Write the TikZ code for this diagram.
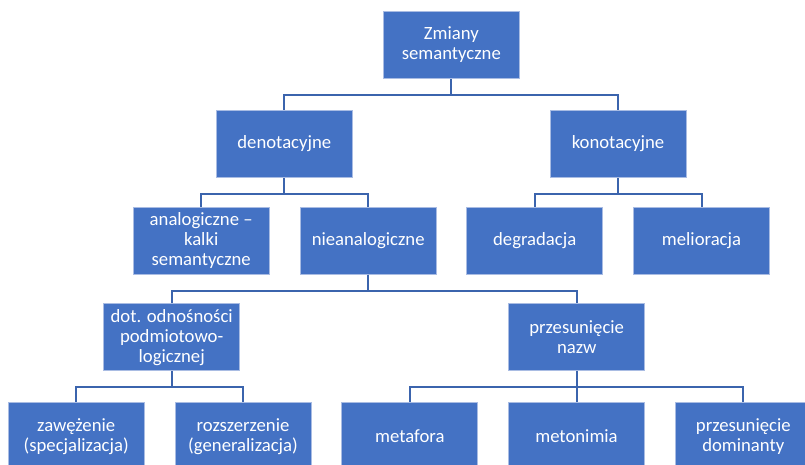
\documentclass[tikz,border=0pt]{standalone}
\usepackage{fontspec}
\setmainfont{Carlito}
\definecolor{boxfill}{HTML}{4472C4}
\definecolor{boxedge}{HTML}{A9BCE3}
\definecolor{linkcol}{HTML}{3B64AD}
\tikzset{
  box/.style={rectangle, fill=boxfill, draw=boxedge, line width=1pt,
    minimum width=136pt, minimum height=67pt, text=white, align=center,
    inner sep=2pt, font=\fontsize{18.7}{20}\selectfont},
  link/.style={draw=linkcol, line width=2pt}
}
\begin{document}
\begin{tikzpicture}[x=1pt,y=-1pt]
\useasboundingbox (0,0) rectangle (805,464);
\clip (0,0) rectangle (805,464);
\fill[white] (0,0) rectangle (805,464);
\node[box] (zs)  at (451.3,45)  {Zmiany\\semantyczne};
\node[box] (den) at (284.3,144) {denotacyjne};
\node[box] (kon) at (618,144)   {konotacyjne};
\node[box] (ana) at (201.2,240.7) {analogiczne –\\kalki\\semantyczne};
\node[box] (nie) at (368.2,240.7) {nieanalogiczne};
\node[box] (deg) at (534.7,240.7) {degradacja};
\node[box] (mel) at (701.5,240.7) {melioracja};
\node[box] (dot) at (171.7,337.3) {dot. odnośności\\podmiotowo-\\logicznej};
\node[box] (prz) at (576.7,337.3) {przesunięcie\\nazw};
\node[box] (zaw) at (76.2,436.2)  {zawężenie\\(specjalizacja)};
\node[box] (roz) at (243,436.2)   {rozszerzenie\\(generalizacja)};
\node[box] (met) at (409.8,436.2) {metafora};
\node[box] (mtn) at (576.5,436.2) {metonimia};
\node[box] (dom) at (743.3,436.2) {przesunięcie\\dominanty};
\foreach \p/\c in {zs/den, zs/kon, den/ana, den/nie, kon/deg, kon/mel,
                   nie/dot, nie/prz, dot/zaw, dot/roz, prz/met, prz/mtn, prz/dom}{
  \draw[link] (\p.south) -- ++(0,16) -| (\c.north);
}
\end{tikzpicture}
\end{document}
